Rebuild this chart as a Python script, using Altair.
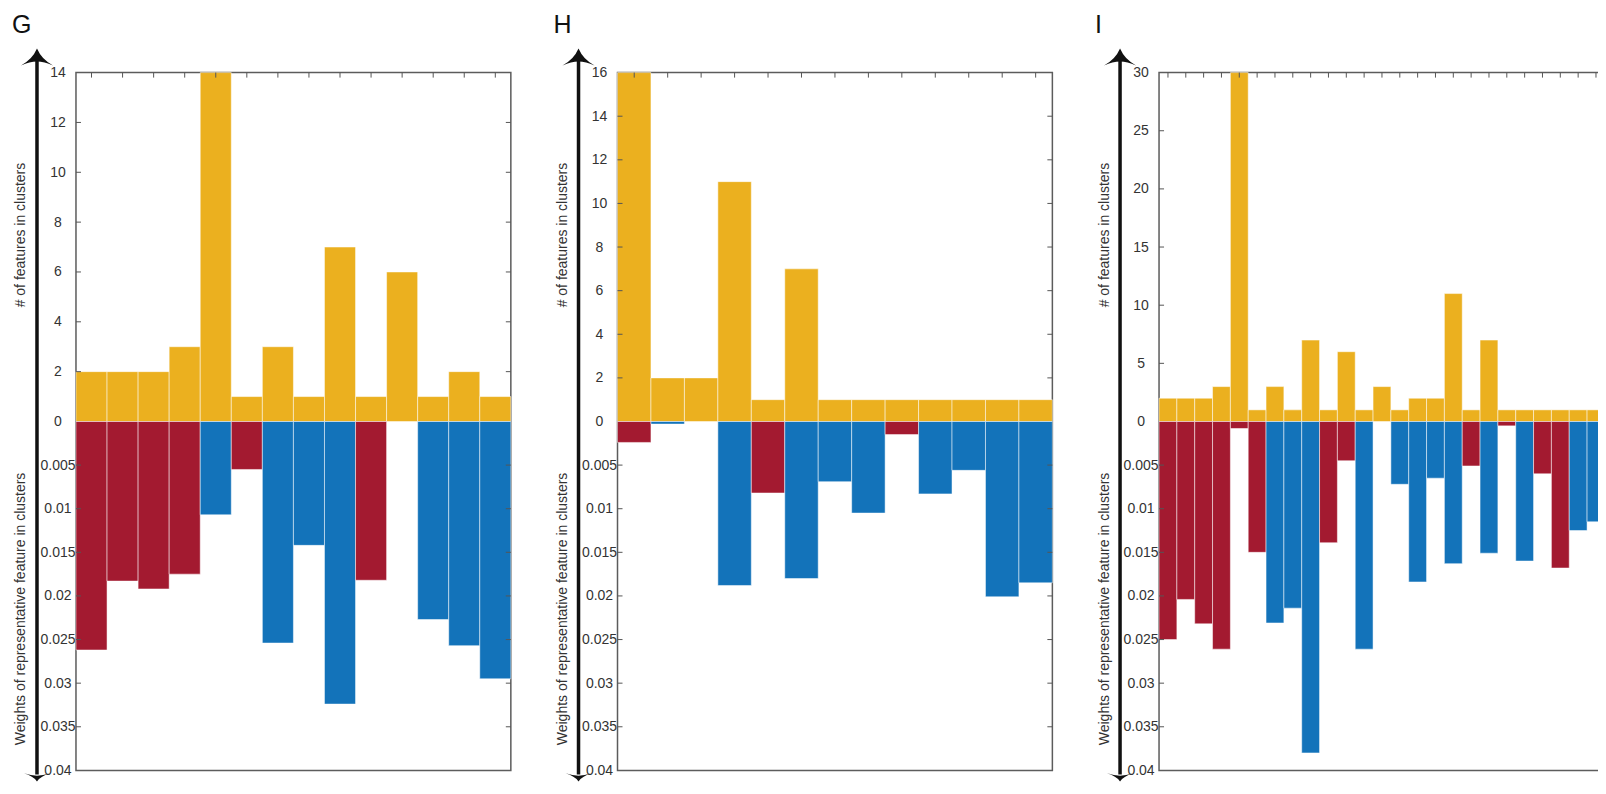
import altair as alt
import pandas as pd

FONT = "Liberation Sans"
YELLOW = "#EBB01F"
RED = "#A31A30"
BLUE = "#1373BA"
FRAME = "#5c5c5c"
TICK = "#555555"

letters = ["G", "H", "I"]

G_counts = [2, 2, 2, 3, 14, 1, 3, 1, 7, 1, 6, 1, 2, 1]
G_weights = [0.0262, 0.0183, 0.0192, 0.0175, 0.0107, 0.0055, 0.0254, 0.0142,
             0.0324, 0.0182, 0.0, 0.0227, 0.0257, 0.0295]
G_signs = ["neg", "neg", "neg", "neg", "pos", "neg", "pos", "pos",
           "pos", "neg", "pos", "pos", "pos", "pos"]
G_ticks = [0, 2, 4, 6, 8, 10, 12, 14]

H_counts = [16, 2, 2, 11, 1, 7, 1, 1, 1, 1, 1, 1, 1]
H_weights = [0.0024, 0.0003, 0.0, 0.0188, 0.0082, 0.0180, 0.0069, 0.0105,
             0.0015, 0.0083, 0.0056, 0.0201, 0.0185]
H_signs = ["neg", "pos", "pos", "pos", "neg", "pos", "pos", "pos",
           "neg", "pos", "pos", "pos", "pos"]
H_ticks = [0, 2, 4, 6, 8, 10, 12, 14, 16]

I_counts = [2, 2, 2, 3, 30, 1, 3, 1, 7, 1, 6, 1, 3, 1, 2, 2, 11, 1, 7, 1,
            1, 1, 1, 1, 1]
I_weights = [0.0250, 0.0204, 0.0232, 0.0261, 0.0008, 0.0150, 0.0231, 0.0214,
             0.0380, 0.0139, 0.0045, 0.0261, 0.0, 0.0072, 0.0184, 0.0065,
             0.0163, 0.0051, 0.0151, 0.0005, 0.0160, 0.0060, 0.0168, 0.0125,
             0.0115]
I_signs = ["neg", "neg", "neg", "neg", "neg", "neg", "pos", "pos", "pos",
           "neg", "neg", "pos", "pos", "pos", "pos", "pos", "pos", "neg",
           "pos", "neg", "pos", "neg", "neg", "pos", "pos"]
I_ticks = [0, 5, 10, 15, 20, 25, 30]

weight_ticks = [0.005, 0.01, 0.015, 0.02, 0.025, 0.03, 0.035, 0.04]

top_title = "# of features in clusters"
bottom_title = "Weights of representative feature in clusters"

HT = 349
TOTAL = 698

UP = "M0,-0.5 Q0.3,0.2 1,0.55 Q0.45,0.3 0,0.3 Q-0.45,0.3 -1,0.55 Q-0.3,0.2 0,-0.5 Z"
DOWN = "M0,0.31 Q0.3,-0.1 1,-0.31 Q0.45,-0.14 0,-0.12 Q-0.45,-0.14 -1,-0.31 Q-0.3,-0.1 0,0.31 Z"


def panel(letter, counts, weights, signs, cticks, width):
    n = len(counts)
    df = pd.DataFrame({"idx": list(range(1, n + 1)), "count": counts,
                       "weight": weights, "sign": signs})
    xscale = alt.Scale(paddingInner=0, paddingOuter=0)
    top_scale = alt.Scale(domain=[0, max(cticks)], range=[HT, 0], nice=False)
    bot_scale = alt.Scale(domain=[0, 0.04], range=[HT, TOTAL], nice=False)
    base = alt.Chart(df)

    top_bars = base.mark_bar(color=YELLOW, stroke="white", strokeWidth=1,
                             strokeOpacity=0.5).encode(
        x=alt.X("idx:O", scale=xscale, axis=None),
        y=alt.Y("count:Q", scale=top_scale,
                axis=alt.Axis(orient="left", values=cticks, title=top_title,
                              titleX=-55, titleY=162, titleAngle=-90,
                              titleBaseline="middle")),
    )
    bot_bars = base.transform_filter("datum.weight > 0").mark_bar(
        stroke="white", strokeWidth=1, strokeOpacity=0.5).encode(
        x=alt.X("idx:O", scale=xscale, axis=None),
        y=alt.Y("weight:Q", scale=bot_scale,
                axis=alt.Axis(orient="left", values=weight_ticks, format="~g",
                              title=bottom_title, titleX=-55, titleY=536,
                              titleAngle=-90, titleBaseline="middle")),
        color=alt.Color("sign:N", scale=alt.Scale(domain=["neg", "pos"],
                                                  range=[RED, BLUE]),
                        legend=None),
    )
    top_ticks = base.mark_rule(color=TICK, strokeWidth=1).encode(
        x=alt.X("idx:O", scale=xscale, axis=None, bandPosition=0.5),
        y=alt.value(0), y2=alt.value(5),
    )
    ct = pd.DataFrame({"v": [v for v in cticks if 0 < v < max(cticks)]})
    wt = pd.DataFrame({"w": [v for v in weight_ticks if v < 0.04]})
    lt = alt.Chart(ct).mark_rule(color=TICK, strokeWidth=1).encode(
        y=alt.Y("v:Q", scale=top_scale, axis=None), x=alt.value(0), x2=alt.value(5))
    rt = alt.Chart(ct).mark_rule(color=TICK, strokeWidth=1).encode(
        y=alt.Y("v:Q", scale=top_scale, axis=None), x=alt.value(width - 5),
        x2=alt.value(width))
    lb = alt.Chart(wt).mark_rule(color=TICK, strokeWidth=1).encode(
        y=alt.Y("w:Q", scale=bot_scale, axis=None), x=alt.value(0), x2=alt.value(5))
    rb = alt.Chart(wt).mark_rule(color=TICK, strokeWidth=1).encode(
        y=alt.Y("w:Q", scale=bot_scale, axis=None), x=alt.value(width - 5),
        x2=alt.value(width))

    one = alt.Data(values=[{"letter": letter}])
    shaft = alt.Chart(one).mark_rule(color="#111111", strokeWidth=3.5).encode(
        x=alt.value(-39), y=alt.value(-12), y2=alt.value(702))
    head_up = alt.Chart(one).mark_point(shape=UP, filled=True, size=1024,
                                        color="#111111", opacity=1).encode(
        x=alt.value(-39), y=alt.value(-16))
    head_down = alt.Chart(one).mark_point(shape=DOWN, filled=True, size=676,
                                          color="#111111", opacity=1).encode(
        x=alt.value(-39), y=alt.value(705))
    label = alt.Chart(one).mark_text(align="left", baseline="alphabetic",
                                     fontSize=25, font=FONT, color="#111111").encode(
        x=alt.value(-64), y=alt.value(-39.5), text="letter:N")

    return alt.layer(top_bars, bot_bars, top_ticks, lt, rt, lb, rb,
                     shaft, head_up, head_down, label).resolve_scale(
        y="independent").properties(width=width, height=TOTAL)


g = panel(letters[0], G_counts, G_weights, G_signs, G_ticks, 435)
h = panel(letters[1], H_counts, H_weights, H_signs, H_ticks, 435)
i = panel(letters[2], I_counts, I_weights, I_signs, I_ticks, 446)

chart = alt.hconcat(g, h, i, spacing=106.7, bounds="flush").configure_view(
    stroke=FRAME, strokeWidth=1.5
).configure_axis(
    labelFont=FONT, labelFontSize=14, labelColor="#333333",
    titleFont=FONT, titleFontSize=14, titleFontWeight="normal",
    titleColor="#333333", domain=False, ticks=False, grid=False,
    labelPadding=18.5, labelAlign="center", labelFlush=False,
).properties(
    padding={"left": 3, "top": 3.5, "right": -8.5, "bottom": 0},
    background="white",
)

chart.save("out.html", embed_options={"renderer": "svg", "actions": False})
